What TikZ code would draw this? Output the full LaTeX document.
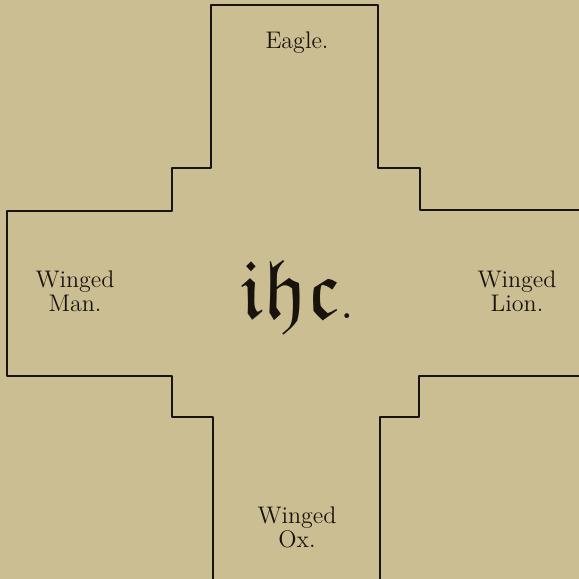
\documentclass[tikz,border=0pt]{standalone}
\usepackage{amssymb}
\definecolor{paper}{RGB}{203,190,147}
\definecolor{ink}{RGB}{24,19,12}
\tikzset{
  caption/.style={text=ink,align=center,font=\fontsize{12}{12}\selectfont,inner sep=0pt},
  outline/.style={draw=ink,line width=0.7pt}
}

\begin{document}
\begin{tikzpicture}[line cap=round,line join=round,x=0.5pt,y=-0.5pt]
			\fill[paper] (0,0) rectangle (579,579);
			\useasboundingbox (0,0) rectangle (579,579);
			% left half of the cross, from the foot round to the right arm
			\draw[outline] (213,579) -- (213,417) -- (172,417) -- (172,376) -- (7,376)
				-- (7,211) -- (172,211) -- (172,168) -- (211,168) -- (211,5)
				-- (378,5) -- (378,168) -- (420,168) -- (420,210) -- (579,210);
			% lower right corner
			\draw[outline] (579,376) -- (419,376) -- (419,417) -- (380,417) -- (380,579);
			\node[caption] (eagle) at (297,43) {Eagle.};
			\node[caption] (man) at (75,291) {Winged\\Man.};
			\node[caption] (lion) at (517,291) {Winged\\Lion.};
			\node[caption] (ox) at (297,527) {Winged\\Ox.};
			\node[text=ink,inner sep=0pt,font=\fontsize{42}{42}\selectfont] (ihc) at (297,297) {$\mathfrak{ihc}.$};
\end{tikzpicture}
\end{document}
